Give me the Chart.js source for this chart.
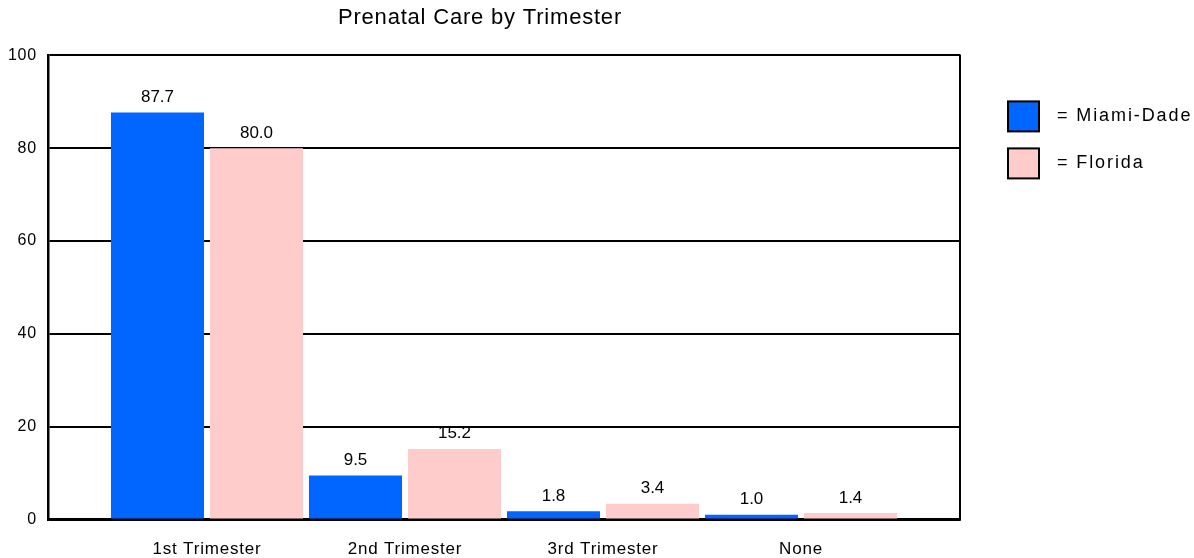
<!DOCTYPE html>
<html>
<head>
<meta charset="utf-8">
<title>Prenatal Care by Trimester</title>
<script src="https://cdn.jsdelivr.net/npm/chart.js@4/dist/chart.umd.min.js"></script>
<style>
    html, body { margin: 0; padding: 0; background: #fff; }
    #wrap { width: 1194px; height: 558px; }
</style>
</head>
<body>
<div id="wrap"><canvas id="chart" width="1194" height="558"></canvas></div>
<script>
// --- Data ---
const categories = ['1st Trimester', '2nd Trimester', '3rd Trimester', 'None'];
const miamiDade = [87.7, 9.5, 1.8, 1.0];
const florida = [80.0, 15.2, 3.4, 1.4];
const seriesNames = ['= Miami-Dade', '= Florida'];
const yTicks = [0, 20, 40, 60, 80, 100];

const FONT = "'Liberation Sans', Arial, Helvetica, sans-serif";
const BLUE = '#0066ff';
const PINK = '#ffcccc';

// --- Plugins ---
const textSpacing = {
    id: 'textSpacing',
    beforeDraw(chart) { chart.ctx.letterSpacing = '0.8px'; }
};

const valueLabels = {
    id: 'valueLabels',
    afterDatasetsDraw(chart) {
        const ctx = chart.ctx;
        ctx.save();
        ctx.letterSpacing = '0px';
        ctx.font = `17px ${FONT}`;
        ctx.fillStyle = '#000';
        ctx.textAlign = 'center';
        ctx.textBaseline = 'alphabetic';
        chart.data.datasets.forEach((ds, i) => {
            chart.getDatasetMeta(i).data.forEach((bar, j) => {
                ctx.fillText(ds.data[j].y.toFixed(1), bar.x, bar.y - 10.5);
            });
        });
        // right border of the plot frame
        const a = chart.chartArea;
        ctx.strokeStyle = '#000';
        ctx.lineWidth = 2;
        ctx.beginPath();
        ctx.moveTo(a.right, a.top - 1);
        ctx.lineTo(a.right, a.bottom + 1);
        ctx.stroke();
        ctx.restore();
    }
};

const sideLegend = {
    id: 'sideLegend',
    afterDraw(chart) {
        const ctx = chart.ctx;
        const a = chart.chartArea;
        ctx.save();
        ctx.letterSpacing = '1.9px';
        ctx.font = `18px ${FONT}`;
        ctx.textBaseline = 'middle';
        ctx.textAlign = 'left';
        chart.data.datasets.forEach((ds, i) => {
            const x = a.right + 48;
            const y = a.top + 46 + i * 47;
            ctx.fillStyle = ds.backgroundColor;
            ctx.fillRect(x, y, 31, 30);
            ctx.strokeStyle = '#000';
            ctx.lineWidth = 2;
            ctx.strokeRect(x, y, 31, 30);
            ctx.fillStyle = '#000';
            ctx.fillText(seriesNames[i], x + 49, y + 15);
        });
        ctx.restore();
    }
};

// --- Chart ---
const toPoints = values => values.map((v, i) => ({ x: i, y: v }));

new Chart(document.getElementById('chart'), {
    type: 'bar',
    data: {
        datasets: [
            { label: seriesNames[0], data: toPoints(miamiDade), backgroundColor: BLUE, borderWidth: 0 },
            { label: seriesNames[1], data: toPoints(florida), backgroundColor: PINK, borderWidth: 0 }
        ]
    },
    options: {
        responsive: false,
        animation: false,
        events: [],
        layout: { padding: { left: 0, right: 234, top: 0, bottom: 0 } },
        datasets: { bar: { categoryPercentage: 1.0, barPercentage: 0.94 } },
        plugins: {
            legend: { display: false },
            tooltip: { enabled: false },
            title: {
                display: true,
                text: 'Prenatal Care by Trimester',
                color: '#000',
                font: { family: FONT, size: 22, weight: 'normal', lineHeight: 1.2 },
                padding: { top: 5, bottom: 24 }
            }
        },
        scales: {
            x: {
                type: 'linear',
                min: -0.803,
                max: 3.803,
                offset: false,
                grid: { display: false, drawTicks: false },
                border: { display: true, color: '#000', width: 2.5 },
                afterBuildTicks: scale => { scale.ticks = categories.map((c, i) => ({ value: i })); },
                afterFit: scale => { scale.height = 38.5; },
                ticks: {
                    color: '#000',
                    padding: 20,
                    maxRotation: 0,
                    autoSkip: false,
                    font: { family: FONT, size: 17, lineHeight: 1.1 },
                    callback: v => categories[v]
                }
            },
            y: {
                min: 0,
                max: 100,
                afterBuildTicks: scale => { scale.ticks = yTicks.map(v => ({ value: v })); },
                afterFit: scale => { scale.width = 48; },
                grid: { color: '#000', lineWidth: 2, drawTicks: false },
                border: { display: true, color: '#000', width: 2.5 },
                ticks: {
                    color: '#000',
                    padding: 11,
                    font: { family: FONT, size: 16 }
                }
            }
        }
    },
    plugins: [textSpacing, valueLabels, sideLegend]
});
</script>
</body>
</html>
